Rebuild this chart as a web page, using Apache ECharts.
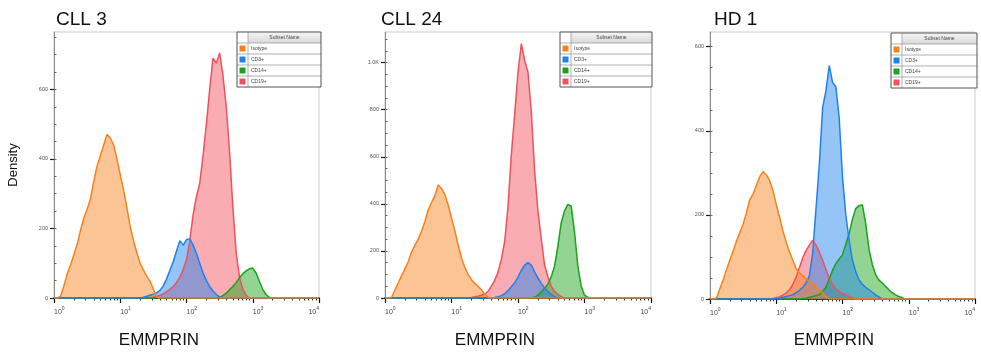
<!DOCTYPE html>
<html>
<head>
<meta charset="utf-8">
<title>EMMPRIN density</title>
</head>
<body style="margin:0;background:#fff">
<div id="main" style="width:981px;height:354px;"></div>
<script src="https://cdn.jsdelivr.net/npm/echarts@6/dist/echarts.min.js"></script>
<script>
// x = log10(EMMPRIN), y = density
var subsetNames = ['Isotype', 'CD3+', 'CD14+', 'CD19+'];
var subsetColors = ['#f7821b', '#1e82ee', '#1aa31a', '#f2505c'];
var decadeExponents = [0, 1, 2, 3, 4];

// CLL 3
var cll3Isotype = [[0.05,0],[0.10,5],[0.15,35],[0.20,70],[0.25,95],[0.30,125],[0.35,155],[0.40,195],[0.45,230],[0.50,255],[0.55,285],[0.60,335],[0.65,380],[0.70,410],[0.75,440],[0.80,470],[0.85,460],[0.90,440],[0.95,400],[1.00,355],[1.05,310],[1.10,260],[1.15,205],[1.20,165],[1.25,130],[1.30,100],[1.35,80],[1.40,62],[1.45,48],[1.50,25],[1.55,3],[1.60,0]];
var cll3CD3 = [[1.30,0],[1.35,2],[1.40,5],[1.45,8],[1.50,11],[1.55,15],[1.60,22],[1.65,35],[1.70,55],[1.75,80],[1.80,105],[1.85,135],[1.90,165],[1.95,152],[2.00,168],[2.05,170],[2.10,152],[2.15,128],[2.20,100],[2.25,72],[2.30,50],[2.35,33],[2.40,20],[2.45,10],[2.50,3],[2.55,0]];
var cll3CD14 = [[2.45,0],[2.50,2],[2.55,7],[2.60,14],[2.65,24],[2.70,33],[2.75,45],[2.80,58],[2.85,70],[2.90,78],[2.95,84],[3.00,86],[3.05,72],[3.10,48],[3.15,25],[3.20,10],[3.25,2],[3.30,0]];
var cll3CD19 = [[1.45,0],[1.50,2],[1.55,5],[1.60,8],[1.65,12],[1.70,18],[1.75,25],[1.80,33],[1.85,45],[1.90,60],[1.95,82],[2.00,110],[2.05,165],[2.10,240],[2.15,292],[2.20,330],[2.25,410],[2.30,500],[2.35,600],[2.40,690],[2.45,675],[2.50,705],[2.55,640],[2.60,550],[2.65,420],[2.70,260],[2.75,130],[2.80,60],[2.85,25],[2.90,8],[2.95,0]];

// CLL 24
var cll24Isotype = [[0.05,0],[0.10,3],[0.15,35],[0.20,65],[0.25,95],[0.30,125],[0.35,155],[0.40,195],[0.45,225],[0.50,250],[0.55,285],[0.60,325],[0.65,375],[0.70,405],[0.75,435],[0.80,480],[0.85,465],[0.90,440],[0.95,395],[1.00,340],[1.05,285],[1.10,225],[1.15,170],[1.20,130],[1.25,100],[1.30,78],[1.35,62],[1.40,50],[1.45,35],[1.50,15],[1.55,3],[1.60,0]];
var cll24CD3 = [[1.60,0],[1.65,2],[1.70,5],[1.75,10],[1.80,18],[1.85,32],[1.90,48],[1.95,65],[2.00,88],[2.05,118],[2.10,140],[2.15,150],[2.20,140],[2.25,110],[2.30,85],[2.35,62],[2.40,42],[2.45,27],[2.50,15],[2.55,5],[2.60,0]];
var cll24CD14 = [[2.20,0],[2.25,3],[2.30,12],[2.35,25],[2.40,42],[2.45,60],[2.50,90],[2.55,135],[2.60,220],[2.65,320],[2.70,370],[2.75,398],[2.80,390],[2.85,280],[2.90,135],[2.95,50],[3.00,12],[3.05,3],[3.10,0]];
var cll24CD19 = [[1.25,0],[1.30,2],[1.35,5],[1.40,8],[1.45,12],[1.50,17],[1.55,28],[1.60,50],[1.65,75],[1.70,110],[1.75,165],[1.80,240],[1.85,390],[1.90,610],[1.95,780],[2.00,960],[2.05,1080],[2.10,1010],[2.15,960],[2.20,790],[2.25,540],[2.30,370],[2.35,250],[2.40,140],[2.45,90],[2.50,50],[2.55,28],[2.60,15],[2.65,5],[2.70,0]];

// HD 1
var hd1Isotype = [[0.05,0],[0.10,3],[0.15,25],[0.20,46],[0.25,70],[0.30,93],[0.35,115],[0.40,138],[0.45,158],[0.50,178],[0.55,205],[0.60,236],[0.65,250],[0.70,270],[0.75,291],[0.80,303],[0.85,295],[0.90,282],[0.95,258],[1.00,225],[1.05,195],[1.10,162],[1.15,135],[1.20,112],[1.25,92],[1.30,72],[1.35,62],[1.40,55],[1.45,48],[1.50,42],[1.55,37],[1.60,30],[1.65,22],[1.70,15],[1.75,6],[1.80,0]];
var hd1CD3 = [[0.95,0],[1.00,1],[1.05,2],[1.10,4],[1.15,6],[1.20,8],[1.25,10],[1.30,15],[1.35,20],[1.40,28],[1.45,38],[1.50,55],[1.55,110],[1.60,215],[1.65,320],[1.70,455],[1.75,495],[1.80,555],[1.85,515],[1.90,505],[1.95,430],[2.00,290],[2.05,200],[2.10,140],[2.15,92],[2.20,65],[2.25,45],[2.30,35],[2.35,28],[2.40,22],[2.45,16],[2.50,10],[2.55,5],[2.60,0]];
var hd1CD14 = [[1.35,0],[1.40,1],[1.45,2],[1.50,4],[1.55,6],[1.60,8],[1.65,10],[1.70,18],[1.75,28],[1.80,48],[1.85,68],[1.90,84],[1.95,95],[2.00,105],[2.05,130],[2.10,155],[2.15,190],[2.20,215],[2.25,222],[2.30,224],[2.35,180],[2.40,118],[2.45,82],[2.50,58],[2.55,45],[2.60,38],[2.65,30],[2.70,22],[2.75,15],[2.80,10],[2.85,6],[2.90,3],[2.95,0]];
var hd1CD19 = [[0.90,0],[0.95,1],[1.00,3],[1.05,5],[1.10,9],[1.15,14],[1.20,22],[1.25,35],[1.30,52],[1.35,75],[1.40,98],[1.45,115],[1.50,128],[1.55,140],[1.60,128],[1.65,112],[1.70,92],[1.75,70],[1.80,50],[1.85,35],[1.90,24],[1.95,17],[2.00,13],[2.05,10],[2.10,6],[2.15,3],[2.20,0]];

var panels = [
    {title: 'CLL 3', titleX: 56, left: 54, top: 32, width: 265, height: 266, yMax: 765, yLabels: [0, 200, 400, 600],
     data: [cll3Isotype, cll3CD3, cll3CD14, cll3CD19], legendX: 237, legendY: 32, legendW: 84, nameX: 159},
    {title: 'CLL 24', titleX: 381, left: 385, top: 32, width: 266, height: 266, yMax: 1130, yLabels: [0, 200, 400, 600, 800, 1000],
     data: [cll24Isotype, cll24CD3, cll24CD14, cll24CD19], legendX: 560, legendY: 32, legendW: 92, nameX: 495},
    {title: 'HD 1', titleX: 714, left: 710, top: 32, width: 265, height: 267, yMax: 635, yLabels: [0, 200, 400, 600],
     data: [hd1Isotype, hd1CD3, hd1CD14, hd1CD19], legendX: 891, legendY: 33, legendW: 86, nameX: 834}
];

var FONT = '"Liberation Sans", Arial, sans-serif';

// log minor ticks at 2..9 of each decade
var xMinorTicks = [];
for (var d = 0; d < 4; d++) {
    for (var k = 2; k <= 9; k++) xMinorTicks.push(d + Math.log10(k));
}

var myChart = echarts.init(document.getElementById('main'));
var grid = [], xAxis = [], yAxis = [], series = [], graphic = [], title = [];

panels.forEach(function (p, i) {
    grid.push({left: p.left, top: p.top, width: p.width, height: p.height,
        show: true, borderColor: '#cccccc', borderWidth: 1, backgroundColor: '#fff'});
    title.push({text: p.title, left: p.titleX, top: 10, padding: 0,
        textStyle: {fontFamily: FONT, fontSize: 19, fontWeight: 'normal', color: '#111'}});

    // major x axis
    xAxis.push({type: 'value', gridIndex: i, min: 0, max: 4, interval: 1, position: 'bottom',
        splitLine: {show: false},
        axisLine: {lineStyle: {color: '#111', width: 1.6}},
        axisTick: {length: 5, lineStyle: {color: '#111', width: 1.2}},
        axisLabel: {
            margin: 8, align: 'left', alignMaxLabel: 'right',
            formatter: function (v) { return '{b|10}{s|' + v + '}'; },
            rich: {
                b: {fontFamily: FONT, fontSize: 7, color: '#444', verticalAlign: 'bottom', lineHeight: 10},
                s: {fontFamily: FONT, fontSize: 5, color: '#444', verticalAlign: 'top', lineHeight: 10, padding: [0, 0, 4, 0]}
            }
        }});
    // minor x ticks
    xAxis.push({type: 'value', gridIndex: i, min: 0, max: 4, position: 'bottom',
        splitLine: {show: false}, axisLine: {show: false}, axisLabel: {show: false},
        axisTick: {length: 2.5, customValues: xMinorTicks, lineStyle: {color: '#333', width: 1}}});

    var yMinor = [];
    for (var v = 0; v <= p.yMax; v += 50) yMinor.push(v);
    yAxis.push({type: 'value', gridIndex: i, min: 0, max: p.yMax,
        splitLine: {show: false},
        axisLine: {show: true, lineStyle: {color: '#8a8a8a', width: 1}},
        axisTick: {show: true, length: 4, customValues: p.yLabels, lineStyle: {color: '#222', width: 1.2}},
        axisLabel: {customValues: p.yLabels, margin: 6, fontFamily: FONT, fontSize: 5.5, color: '#555',
            formatter: function (v) { return v >= 1000 ? (v / 1000).toFixed(1) + 'K' : v; }}});
    yAxis.push({type: 'value', gridIndex: i, min: 0, max: p.yMax,
        splitLine: {show: false}, axisLine: {show: false}, axisLabel: {show: false},
        axisTick: {show: true, length: 2.5, customValues: yMinor, lineStyle: {color: '#666', width: 1}}});

    // draw order: CD19, CD14, CD3, Isotype on top
    [3, 2, 1, 0].forEach(function (s) {
        series.push({
            name: subsetNames[s], type: 'line', xAxisIndex: i * 2, yAxisIndex: i * 2,
            symbol: 'none', silent: true,
            lineStyle: {color: subsetColors[s], width: 1.5},
            areaStyle: {color: subsetColors[s], opacity: 0.47},
            data: [[0, 0]].concat(p.data[s], [[4, 0]])
        });
    });

    // x axis name
    graphic.push({type: 'text', x: p.nameX, y: 340,
        style: {text: 'EMMPRIN', fontFamily: FONT, fontSize: 17, fill: '#111', textAlign: 'center', textVerticalAlign: 'middle'}});

    // legend table
    var lx = p.legendX, ly = p.legendY, lw = p.legendW, rowH = 11, colW = 11;
    var kids = [];
    kids.push({type: 'rect', shape: {x: lx, y: ly, width: lw, height: rowH * 5}, style: {fill: '#fff'}});
    kids.push({type: 'rect', shape: {x: lx + colW, y: ly, width: lw - colW, height: rowH},
        style: {fill: new echarts.graphic.LinearGradient(0, 0, 0, 1, [{offset: 0, color: '#f4f4f4'}, {offset: 1, color: '#dadada'}])}});
    for (var r = 1; r < 5; r++) {
        kids.push({type: 'line', shape: {x1: lx, y1: ly + r * rowH, x2: lx + lw, y2: ly + r * rowH},
            style: {stroke: '#9c9c9c', lineWidth: 0.8}});
    }
    kids.push({type: 'line', shape: {x1: lx + colW, y1: ly, x2: lx + colW, y2: ly + rowH * 5},
        style: {stroke: '#9c9c9c', lineWidth: 0.8}});
    kids.push({type: 'rect', shape: {x: lx, y: ly, width: lw, height: rowH * 5},
        style: {fill: 'none', stroke: '#555', lineWidth: 1}});
    kids.push({type: 'text', x: lx + colW + (lw - colW) / 2, y: ly + rowH / 2 + 0.5,
        style: {text: 'Subset Name', fontFamily: FONT, fontSize: 5, fill: '#444', textAlign: 'center', textVerticalAlign: 'middle'}});
    subsetNames.forEach(function (n, s) {
        var ry = ly + rowH * (s + 1);
        kids.push({type: 'rect', shape: {x: lx + 2.5, y: ry + 2.5, width: 6, height: 6}, style: {fill: subsetColors[s]}});
        kids.push({type: 'text', x: lx + colW + 3, y: ry + rowH / 2 + 0.5,
            style: {text: n, fontFamily: FONT, fontSize: 5, fill: '#444', textVerticalAlign: 'middle'}});
    });
    graphic.push({type: 'group', z: 100, children: kids});
});

graphic.push({type: 'text', x: 13, y: 165, rotation: Math.PI / 2,
    style: {text: 'Density', fontFamily: FONT, fontSize: 13, fill: '#111', textAlign: 'center', textVerticalAlign: 'middle'}});

myChart.setOption({
    animation: false,
    title: title,
    grid: grid,
    xAxis: xAxis,
    yAxis: yAxis,
    series: series,
    graphic: graphic
});
</script>
</body>
</html>
